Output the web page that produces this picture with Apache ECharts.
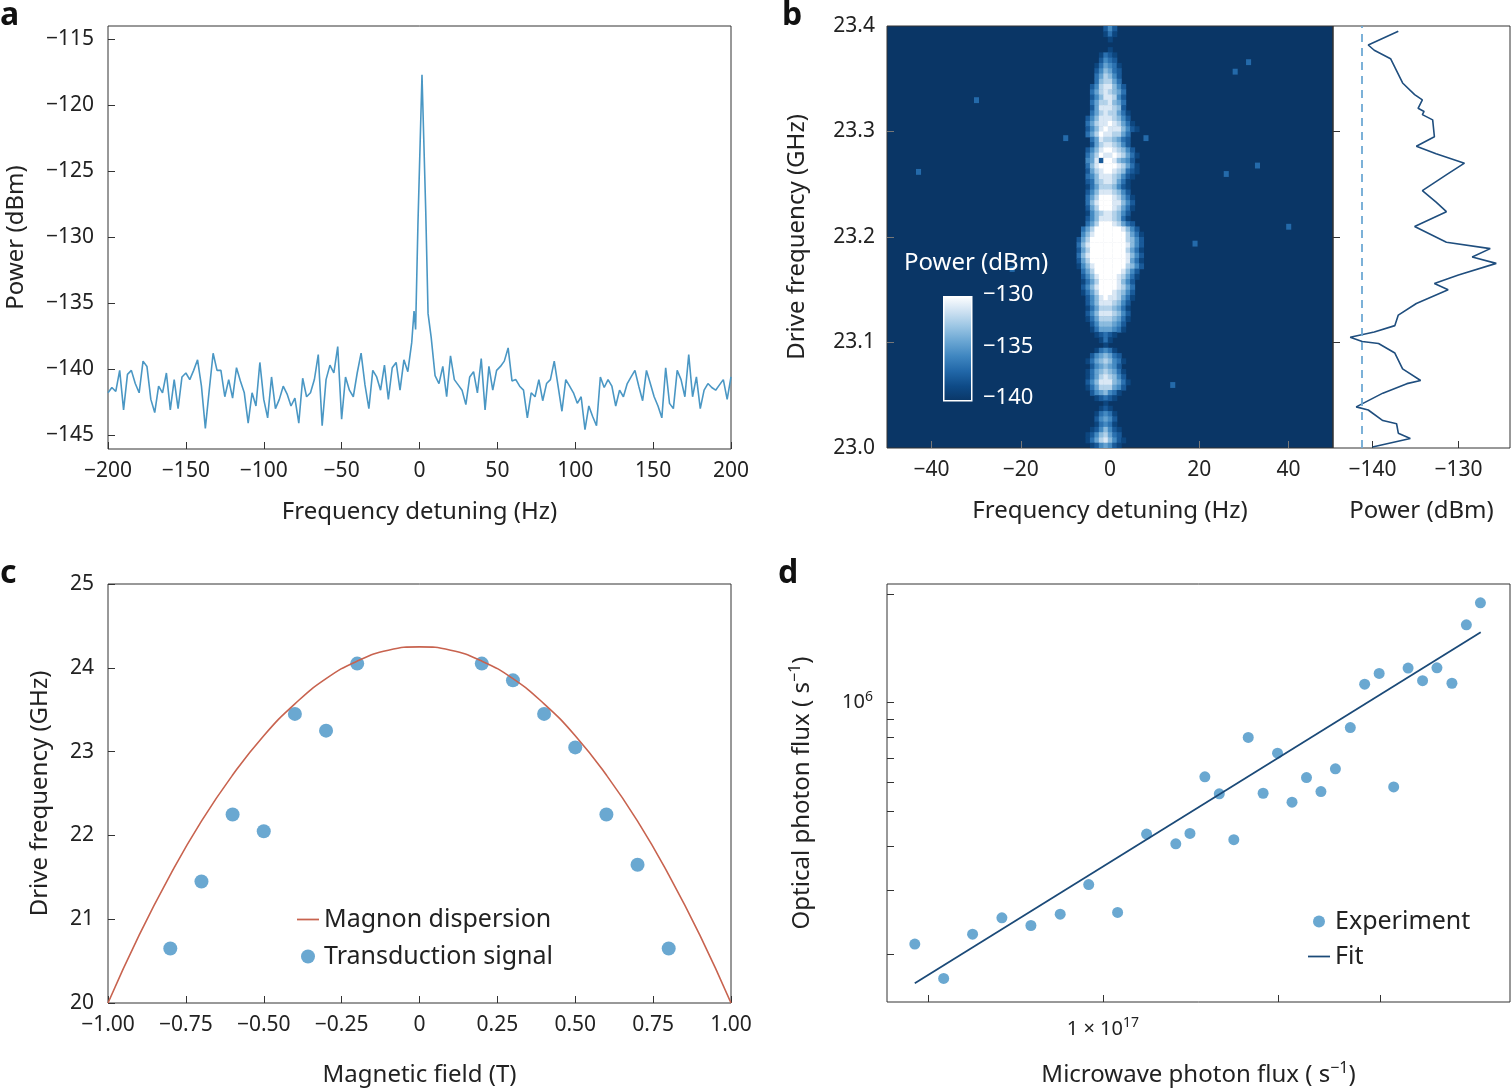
<!DOCTYPE html>
<html>
<head>
<meta charset="UTF-8">
<title>transduction figure</title>
<script src="https://cdn.jsdelivr.net/npm/echarts@6/dist/echarts.min.js"></script>
<style>
  html, body { margin: 0; padding: 0; background: #fff; }
  #main { width: 1511px; height: 1088px; }
</style>
</head>
<body>
<div id="main"></div>
<script>
// ---- panel a: spectrum (noise, 2.5 Hz steps)
var noiseLeft = [-141.8,-141.4,-141.7,-140.1,-143.1,-140.4,-140.1,-141.1,-141.8,-139.4,-139.8,-142.3,-143.3,-141.3,-141.8,-140.3,-143.1,-140.8,-143.0,-140.6,
  -140.3,-140.8,-140.1,-139.3,-141.3,-144.5,-141.6,-138.8,-140.1,-140.1,-142.1,-140.8,-142.2,-139.9,-140.9,-141.8,-144.1,-141.8,-142.8,-139.5,
  -142.3,-143.7,-140.6,-143.0,-142.3,-141.3,-141.9,-142.8,-142.2,-144.1,-140.7,-142.1,-141.8,-140.8,-138.9,-144.3,-140.8,-139.7,-140.3,-138.3,
  -143.8,-140.6,-141.6,-142.1,-140.3,-138.8,-141.2,-143.0,-140.1,-140.6,-141.6,-139.7,-142.3,-139.9,-139.5,-141.6,-139.3,-140.2];
var peakFreq = [-5, -3.5, -2.5, -1, 1.6, 4, 5.5, 7.5, 10];
var peakPow  = [-138.0, -135.6, -137.0, -129.0, -117.7, -128.0, -135.8, -137.6, -140.5];
var noiseRight = [-141.1,-139.8,-142.1,-139.0,-140.8,-141.2,-141.6,-142.7,-140.6,-140.2,-141.8,-139.2,-143.1,-139.8,-141.6,-140.1,-139.8,-139.4,-138.4,-140.9,
  -140.8,-141.3,-141.6,-143.7,-141.8,-142.1,-140.8,-142.4,-141.1,-140.8,-139.4,-141.3,-143.2,-140.8,-141.3,-141.8,-142.6,-142.1,-144.6,-142.8,
  -143.6,-144.3,-140.6,-141.4,-140.8,-141.3,-142.8,-141.6,-142.1,-141.1,-140.6,-140.1,-141.3,-142.4,-140.1,-141.1,-142.1,-142.8,-143.7,-139.9,
  -142.6,-143.0,-140.1,-140.8,-142.1,-138.9,-142.1,-140.6,-143.0,-141.6,-141.1,-141.4,-141.6,-141.2,-140.8,-142.3,-140.6];

// ---- panel b: heat map rows (23.4 -> 23.0 GHz, 0.005 GHz each), columns -7..7 Hz, digit = brightness
var heatRows = [
  "000000242000000","000000131000000","000000010000000","000000000000000","000000010000000",
  "000001321000000","000002432000000","000013543100000","000024653200000","000035764200000",
  "000036775300000","000247886420000","000357876530000","000246887420000","000357786530000",
  "000258887620000","000357877531000","002468887642000","003578898753100","002468988864210",
  "003579887753000","000358776532000","000257887642000","002468998764200","003579889875310",
  "004582998654200","003689999875310","002578998763210","003468887642100","002367887531000",
  "001357776421000","002468887642000","003579998753100","003689998864200","002579998753100",
  "001467887642000","002468887631000","003579998753200","035799999986420","046899999997531",
  "257999999997642","368999999998642","257999999997531","368999999998642","257999999998531",
  "146899999997642","035799999986420","024689999875310","013579999864200","024689999875300",
  "013579998764200","002468988753100","002468887642000","001357776531000","002468887642000",
  "001357776531000","000246665420000","000135554310000","000012321000000","000001310000000",
  "000000100000000","000013431000000","000245653200000","001356764310000","000245654200000",
  "001356765310000","001357876420000","002468886531000","001357775420000","000245643100000",
  "000012321000000","000000100000000","000001210000000","000013431000000","000024542000000",
  "000013431000000","000124642100000","001246753200000","001357864210000","000124542100000"
];
var specks = [[31,23.366],[28,23.357],[-43,23.262],[26,23.26],[-10,23.294],[8,23.294],[19,23.194],[33,23.268],[-30,23.33],[14,23.06],[-22,23.17],[40,23.21]];
// side profile: [power dBm, drive frequency GHz]
var profPow  = [-137.0,-140.5,-139.8,-137.9,-136.5,-135.1,-134.2,-134.7,-134.0,-134.2,-133.0,-132.8,-134.9,-132.6,-129.3,-131.2,-134.2,-132.6,-131.4,-135.1,
  -131.4,-126.3,-128.4,-125.6,-130.0,-132.8,-131.2,-134.9,-137.0,-137.4,-139.8,-142.6,-141.2,-139.3,-137.4,-136.5,-134.4,-136.0,-138.8,-141.9,
  -140.5,-138.8,-137.2,-137.0,-135.6,-140.0];
var profFreq = [23.395,23.382,23.377,23.369,23.346,23.335,23.330,23.322,23.319,23.316,23.311,23.295,23.286,23.279,23.270,23.260,23.244,23.233,23.224,23.210,
  23.195,23.189,23.181,23.175,23.164,23.156,23.150,23.137,23.126,23.116,23.110,23.105,23.101,23.099,23.090,23.075,23.064,23.061,23.052,23.039,
  23.036,23.026,23.023,23.014,23.009,23.001];

// ---- panel c
var dispField = [-1.0,-0.9,-0.8,-0.7,-0.6,-0.5,-0.4,-0.3,-0.2,-0.1,0,0.1,0.2,0.3,0.4,0.5,0.6,0.7,0.8,0.9,1.0];
var dispFreq  = [20.0,20.81,21.53,22.17,22.72,23.19,23.57,23.87,24.08,24.21,24.25,24.21,24.08,23.87,23.57,23.19,22.72,22.17,21.53,20.81,20.0];
var sigField  = [-0.8,-0.7,-0.6,-0.5,-0.4,-0.3,-0.2,0.2,0.3,0.4,0.5,0.6,0.7,0.8];
var sigFreq   = [20.65,21.45,22.25,22.05,23.45,23.25,24.05,24.05,23.85,23.45,23.05,22.25,21.65,20.65];

// ---- panel d (microwave flux in 1e17 s^-1, optical flux in 1e5 s^-1)
var mwFlux  = [0.4745,0.532,0.5966,0.6701,0.7518,0.8443,0.9453,1.060,1.189,1.335,1.412,1.498,1.586,1.680,1.779,1.887,1.998,2.116,2.241,2.373,
  2.513,2.666,2.822,2.989,3.166,3.352,3.550,3.758,3.988,4.223,4.465];
var optFlux = [2.13,1.71,2.27,2.52,2.40,2.58,3.12,2.61,4.31,4.05,4.33,6.22,5.58,4.16,8.01,5.60,7.24,5.29,6.19,5.66,
  6.55,8.53,11.26,12.07,5.83,12.49,11.52,12.51,11.33,16.47,18.97];
var fitMw  = [0.4745, 4.47];
var fitOpt = [1.657, 15.72];

var FONT = 'Noto Sans';
var BLUE = '#4592c6';
var heatColors = ['#0a3666','#0e4a86','#2167a8','#3f86c0','#6aa6d3','#9cc6e4','#cfe2f2','#ffffff'];

var dataA = [];
noiseLeft.forEach(function (v, i) { dataA.push([-200 + 2.5 * i, v]); });
peakFreq.forEach(function (f, i) { dataA.push([f, peakPow[i]]); });
noiseRight.forEach(function (v, i) { dataA.push([12.5 + i * 187.5 / (noiseRight.length - 1), v]); });

var heatData = [];
heatRows.forEach(function (row, i) {
  for (var j = 0; j < row.length; j++) {
    var d = +row[j];
    if (d > 0) heatData.push([j - 7, 23.4 - 0.005 * (i + 0.5), -141 + d * 1.3]);
  }
});
specks.forEach(function (s) { heatData.push([s[0], s[1], -137.5]); });

function minus(v) { return String(v).replace('-', '\u2212'); }

var chart = echarts.init(document.getElementById('main'));
var lab = { color: '#222', fontSize: 21, fontFamily: FONT };
var nameStyle = { color: '#222', fontSize: 24, fontFamily: FONT };
var tick = { inside: true, length: 7, lineStyle: { color: '#333' } };
var noLine = { show: false, onZero: false };
var gridBase = { show: true, borderColor: '#333', borderWidth: 1, backgroundColor: 'transparent' };
var lineIcon = 'path://M0,0 L20,0 L20,1.6 L0,1.6 Z';

var option = {
  animation: false,
  textStyle: { fontFamily: FONT },
  grid: [
    Object.assign({ left: 108, top: 26, width: 623, height: 423 }, gridBase),
    Object.assign({ left: 887, top: 26, width: 446, height: 422 }, gridBase, { backgroundColor: heatColors[0] }),
    Object.assign({ left: 1333, top: 26, width: 177, height: 422 }, gridBase),
    Object.assign({ left: 108, top: 584, width: 623, height: 421 }, gridBase),
    Object.assign({ left: 887, top: 584, width: 623, height: 422 }, gridBase)
  ],
  xAxis: [
    { gridIndex: 0, type: 'value', min: -200, max: 200, interval: 50, axisLine: noLine, axisTick: tick, splitLine: { show: false },
      axisLabel: Object.assign({ margin: 12, formatter: minus }, lab), name: 'Frequency detuning (Hz)', nameLocation: 'middle', nameGap: 51, nameTextStyle: nameStyle },
    { gridIndex: 1, type: 'value', min: -50, max: 50, axisLine: noLine, splitLine: { show: false },
      axisTick: Object.assign({}, tick, { customValues: [-40, -20, 0, 20, 40], lineStyle: { color: '#777' } }),
      axisLabel: Object.assign({ margin: 12, customValues: [-40, -20, 0, 20, 40], formatter: minus }, lab),
      name: 'Frequency detuning (Hz)', nameLocation: 'middle', nameGap: 51, nameTextStyle: nameStyle },
    { gridIndex: 2, type: 'value', min: -144.6, max: -124, axisLine: noLine, splitLine: { show: false },
      axisTick: Object.assign({}, tick, { customValues: [-140, -130] }),
      axisLabel: Object.assign({ margin: 12, customValues: [-140, -130], formatter: minus }, lab),
      name: 'Power (dBm)', nameLocation: 'middle', nameGap: 51, nameTextStyle: nameStyle },
    { gridIndex: 3, type: 'value', min: -1, max: 1, interval: 0.25, axisLine: noLine, axisTick: tick, splitLine: { show: false },
      axisLabel: Object.assign({ margin: 12, formatter: function (v) { return v === 0 ? '0' : minus(v.toFixed(2)); } }, lab),
      name: 'Magnetic field (T)', nameLocation: 'middle', nameGap: 60, nameTextStyle: nameStyle },
    { gridIndex: 4, type: 'log', logBase: 10, min: 0.425, max: 5.02, axisLine: noLine, splitLine: { show: false },
      axisTick: Object.assign({}, tick, { customValues: [0.5, 1, 2, 3] }),
      axisLabel: Object.assign({ margin: 14, customValues: [1], formatter: function () { return '1 \u00d7 10{s|17}'; },
        rich: { s: { fontSize: 14, verticalAlign: 'top', padding: [0, 0, 12, 0], color: '#222' } } }, lab, { fontSize: 20 }),
      name: 'Microwave photon flux ( s{s|\u22121})', nameLocation: 'middle', nameGap: 58,
      nameTextStyle: Object.assign({ rich: { s: { fontSize: 16, verticalAlign: 'top', padding: [0, 0, 14, 0] } } }, nameStyle) }
  ],
  yAxis: [
    { gridIndex: 0, type: 'value', min: -146.06, max: -114, axisLine: noLine, splitLine: { show: false },
      axisTick: Object.assign({}, tick, { customValues: [-145, -140, -135, -130, -125, -120, -115] }),
      axisLabel: Object.assign({ margin: 14, customValues: [-145, -140, -135, -130, -125, -120, -115], formatter: minus }, lab),
      name: 'Power (dBm)', nameLocation: 'middle', nameGap: 80, nameTextStyle: nameStyle },
    { gridIndex: 1, type: 'value', min: 23.0, max: 23.4, axisLine: noLine, splitLine: { show: false },
      axisTick: Object.assign({}, tick, { customValues: [23.1, 23.2, 23.3], lineStyle: { color: '#777' } }),
      axisLabel: Object.assign({ margin: 12, customValues: [23.0, 23.1, 23.2, 23.3, 23.4], formatter: function (v) { return v.toFixed(1); } }, lab),
      name: 'Drive frequency (GHz)', nameLocation: 'middle', nameGap: 78, nameTextStyle: nameStyle },
    { gridIndex: 2, type: 'value', min: 23.0, max: 23.4, axisLine: noLine, splitLine: { show: false },
      axisTick: Object.assign({}, tick, { customValues: [23.1, 23.2, 23.3] }), axisLabel: { show: false } },
    { gridIndex: 3, type: 'value', min: 20, max: 25, interval: 1, axisLine: noLine, axisTick: tick, splitLine: { show: false },
      axisLabel: Object.assign({ margin: 14 }, lab), name: 'Drive frequency (GHz)', nameLocation: 'middle', nameGap: 56, nameTextStyle: nameStyle },
    { gridIndex: 4, type: 'log', logBase: 10, min: 1.47, max: 21.4, axisLine: noLine, splitLine: { show: false },
      axisTick: Object.assign({}, tick, { customValues: [2, 3, 4, 5, 6, 7, 8, 9, 10, 20] }),
      axisLabel: Object.assign({ margin: 14, customValues: [10], formatter: function () { return '10{s|6}'; },
        rich: { s: { fontSize: 14, verticalAlign: 'top', padding: [0, 0, 12, 0], color: '#222' } } }, lab, { fontSize: 20 }),
      name: 'Optical photon flux ( s{s|\u22121})', nameLocation: 'middle', nameGap: 70,
      nameTextStyle: Object.assign({ rich: { s: { fontSize: 16, verticalAlign: 'top', padding: [0, 0, 14, 0] } } }, nameStyle) }
  ],
  visualMap: {
    show: false, type: 'continuous', seriesIndex: 1, dimension: 2, min: -141, max: -129.3,
    inRange: { color: heatColors }
  },
  legend: [
    { left: 292, top: 902, orient: 'vertical', itemGap: 12, itemWidth: 22, itemHeight: 14,
      textStyle: { fontSize: 25, color: '#222', fontFamily: FONT },
      data: [{ name: 'Magnon dispersion', icon: lineIcon, itemStyle: { color: '#c8634f' } }, { name: 'Transduction signal', icon: 'circle' }] },
    { left: 1303, top: 904, orient: 'vertical', itemGap: 10, itemWidth: 22, itemHeight: 12,
      textStyle: { fontSize: 25, color: '#222', fontFamily: FONT },
      data: [{ name: 'Experiment', icon: 'circle' }, { name: 'Fit', icon: lineIcon, itemStyle: { color: '#1b4a78' } }] }
  ],
  graphic: [
    { type: 'text', left: 0, top: 0, style: { text: 'a', font: 'bold 32px ' + FONT, fill: '#111' } },
    { type: 'text', left: 782, top: 0, style: { text: 'b', font: 'bold 32px ' + FONT, fill: '#111' } },
    { type: 'text', left: 0, top: 558, style: { text: 'c', font: 'bold 32px ' + FONT, fill: '#111' } },
    { type: 'text', left: 778, top: 558, style: { text: 'd', font: 'bold 32px ' + FONT, fill: '#111' } },
    { type: 'text', left: 904, top: 251, z: 100, style: { text: 'Power (dBm)', font: '24px ' + FONT, fill: '#fff' } },
    { type: 'rect', left: 943, top: 296, z: 100, shape: { width: 28, height: 104 },
      style: { stroke: '#fff', lineWidth: 1.5, fill: new echarts.graphic.LinearGradient(0, 0, 0, 1,
        heatColors.slice().reverse().map(function (c, i, a) { return { offset: i / (a.length - 1), color: c }; })) } },
    { type: 'text', left: 983, top: 284, z: 100, style: { text: '\u2212130', font: '22px ' + FONT, fill: '#fff' } },
    { type: 'text', left: 983, top: 336, z: 100, style: { text: '\u2212135', font: '22px ' + FONT, fill: '#fff' } },
    { type: 'text', left: 983, top: 387, z: 100, style: { text: '\u2212140', font: '22px ' + FONT, fill: '#fff' } }
  ],
  series: [
    { type: 'line', xAxisIndex: 0, yAxisIndex: 0, data: dataA, symbol: 'none', lineStyle: { color: '#4a97c4', width: 1.6 } },
    { type: 'custom', xAxisIndex: 1, yAxisIndex: 1, data: heatData, clip: true,
      renderItem: function (params, api) {
        var p0 = api.coord([api.value(0) - 0.5, api.value(1) + 0.0025]);
        var p1 = api.coord([api.value(0) + 0.5, api.value(1) - 0.0025]);
        return { type: 'rect', shape: { x: p0[0], y: p0[1], width: p1[0] - p0[0] + 0.6, height: p1[1] - p0[1] + 0.6 },
          style: { fill: api.visual('color') } };
      } },
    { type: 'line', xAxisIndex: 2, yAxisIndex: 2, data: profPow.map(function (p, i) { return [p, profFreq[i]]; }),
      symbol: 'none', lineStyle: { color: '#1f4e7e', width: 1.6 },
      markLine: { silent: true, symbol: 'none', label: { show: false },
        lineStyle: { color: '#6ea9d4', type: [8, 6], width: 1.8 }, data: [{ xAxis: -141.3 }] } },
    { name: 'Magnon dispersion', type: 'line', xAxisIndex: 3, yAxisIndex: 3, symbol: 'none', smooth: true,
      data: dispField.map(function (b, i) { return [b, dispFreq[i]]; }), lineStyle: { color: '#c8634f', width: 1.6 }, itemStyle: { color: '#c8634f' } },
    { name: 'Transduction signal', type: 'scatter', xAxisIndex: 3, yAxisIndex: 3, symbolSize: 14,
      data: sigField.map(function (b, i) { return [b, sigFreq[i]]; }), itemStyle: { color: BLUE } },
    { name: 'Experiment', type: 'scatter', xAxisIndex: 4, yAxisIndex: 4, symbolSize: 11,
      data: mwFlux.map(function (m, i) { return [m, optFlux[i]]; }), itemStyle: { color: BLUE } },
    { name: 'Fit', type: 'line', xAxisIndex: 4, yAxisIndex: 4, symbol: 'none',
      data: fitMw.map(function (m, i) { return [m, fitOpt[i]]; }), lineStyle: { color: '#1b4a78', width: 1.8 }, itemStyle: { color: '#1b4a78' } }
  ]
};
chart.setOption(option);
</script>
</body>
</html>
